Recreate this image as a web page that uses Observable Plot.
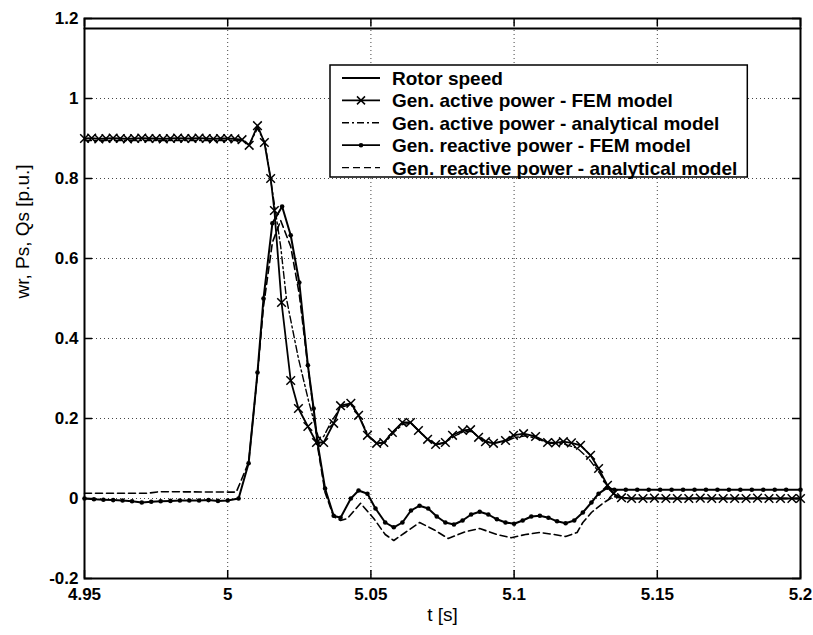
<!DOCTYPE html>
<html><head><meta charset="utf-8">
<script src="https://cdn.jsdelivr.net/npm/d3@7"></script>
<script src="https://cdn.jsdelivr.net/npm/@observablehq/plot@0.6"></script>
<style>body{margin:0;background:#fff}</style>
</head><body><div id="chart"></div>
<script>
// ---- tick labels ----
const xTicks = [4.95, 5, 5.05, 5.1, 5.15, 5.2];
const xTickLabels = ["4.95", "5", "5.05", "5.1", "5.15", "5.2"];
const yTicks = [-0.2, 0, 0.2, 0.4, 0.6, 0.8, 1, 1.2];
const yTickLabels = ["-0.2", "0", "0.2", "0.4", "0.6", "0.8", "1", "1.2"];
const xLabel = "t [s]";
const yLabel = "wr, Ps, Qs [p.u.]";
const seriesNames = [
  "Rotor speed",
  "Gen. active power - FEM model",
  "Gen. active power - analytical model",
  "Gen. reactive power - FEM model",
  "Gen. reactive power - analytical model"
];

// ---- series values ----
const rotorT = [4.95, 5.2];
const rotorV = [1.175, 1.175];

const activeFemT = [4.95,4.9525,4.955,4.9575,4.96,4.9625,4.965,4.9675,4.97,4.9725,4.975,4.9775,4.98,4.9825,4.985,4.9875,4.99,4.9925,4.995,4.9975,5.0,5.0025,5.005,
  5.0075,5.0104,5.0128,5.015,5.0163,5.0188,5.022,5.0247,5.028,5.031,5.0335,5.037,5.0394,5.043,5.0457,5.0488,5.052,5.0545,5.0575,5.061,5.0638,5.0666,5.0698,5.0726,5.076,5.0785,5.082,5.0848,5.0876,5.090,5.0928,5.097,5.0998,5.1033,5.1075,5.1117,5.1145,5.1172,5.120,5.1232,5.1267,5.1295,5.1326,5.1347,5.1375,
  5.141,5.145,5.149,5.153,5.157,5.161,5.165,5.169,5.173,5.177,5.181,5.185,5.189,5.193,5.197,5.2];
const activeFemV = [0.900,0.901,0.899,0.900,0.901,0.900,0.899,0.900,0.901,0.900,0.900,0.899,0.900,0.901,0.900,0.900,0.901,0.900,0.899,0.900,0.900,0.899,0.897,
  0.883,0.932,0.890,0.800,0.720,0.490,0.295,0.225,0.180,0.140,0.140,0.188,0.232,0.238,0.208,0.158,0.138,0.140,0.165,0.190,0.190,0.170,0.148,0.135,0.140,0.158,0.170,0.172,0.153,0.142,0.138,0.145,0.158,0.162,0.155,0.140,0.139,0.142,0.139,0.133,0.108,0.075,0.033,0.012,0.002,
  0.000,0.000,0.001,0.000,0.000,0.000,0.001,0.000,0.000,0.000,0.000,0.001,0.000,0.000,0.000,0.000];

const activeAnaT = [4.95,5.0,5.005,5.0075,5.0104,5.013,5.016,5.0185,5.0205,5.0247,5.0282,5.0307,5.0317,5.0335,5.036,5.0394,5.043,5.046,5.049,5.052,5.055,5.058,5.061,5.064,5.067,5.070,5.073,5.076,5.079,5.082,5.085,5.088,5.092,5.097,5.100,5.104,5.108,5.112,5.117,5.122,5.126,5.130,5.133,5.136,5.140,5.2];
const activeAnaV = [0.895,0.895,0.895,0.885,0.925,0.890,0.750,0.630,0.500,0.350,0.245,0.178,0.152,0.155,0.190,0.228,0.235,0.205,0.158,0.138,0.140,0.165,0.185,0.188,0.168,0.147,0.135,0.140,0.155,0.166,0.168,0.152,0.138,0.142,0.152,0.157,0.150,0.138,0.137,0.126,0.100,0.062,0.025,0.005,0.000,0.000];

const reactFemT = [4.95,4.9533,4.9566,4.96,4.9633,4.9666,4.97,4.9733,4.9766,4.98,4.9833,4.9866,4.99,4.9933,4.9966,5.0,5.0038,5.0073,5.0104,5.0125,5.0156,5.019,5.022,5.025,5.028,5.030,5.0314,5.034,5.037,5.0394,5.043,5.0457,5.0488,5.0516,5.055,5.058,5.061,5.064,5.067,5.070,5.073,5.076,5.079,5.082,5.085,5.088,5.091,5.094,5.097,5.100,5.103,5.106,5.109,5.112,5.115,5.118,5.121,5.124,5.127,5.1295,5.1326,5.135,
  5.139,5.143,5.147,5.151,5.155,5.159,5.163,5.167,5.171,5.175,5.179,5.183,5.187,5.191,5.195,5.2];
const reactFemV = [0.000,-0.002,-0.003,-0.004,-0.005,-0.007,-0.010,-0.008,-0.007,-0.006,-0.005,-0.005,-0.005,-0.004,-0.006,-0.005,0.000,0.088,0.315,0.500,0.688,0.730,0.658,0.540,0.333,0.225,0.138,0.025,-0.043,-0.048,0.000,0.020,0.012,-0.025,-0.060,-0.072,-0.060,-0.030,-0.018,-0.025,-0.045,-0.060,-0.065,-0.055,-0.040,-0.033,-0.040,-0.052,-0.060,-0.063,-0.055,-0.045,-0.043,-0.048,-0.057,-0.062,-0.055,-0.035,-0.010,0.012,0.027,0.022,
  0.022,0.022,0.022,0.022,0.022,0.022,0.022,0.022,0.022,0.022,0.022,0.022,0.022,0.022,0.022,0.022];

const reactAnaT = [4.95,4.972,4.976,5.0,5.003,5.0073,5.0104,5.0125,5.0156,5.0185,5.022,5.025,5.028,5.030,5.0314,5.034,5.037,5.0394,5.0418,5.0464,5.051,5.055,5.058,5.062,5.067,5.072,5.077,5.083,5.088,5.094,5.099,5.104,5.109,5.114,5.118,5.122,5.124,5.127,5.131,5.1347,5.138,5.2];
const reactAnaV = [0.013,0.013,0.017,0.016,0.016,0.090,0.310,0.480,0.640,0.695,0.630,0.510,0.330,0.220,0.130,0.015,-0.045,-0.055,-0.050,-0.012,-0.050,-0.090,-0.105,-0.085,-0.060,-0.078,-0.100,-0.083,-0.075,-0.090,-0.098,-0.090,-0.085,-0.090,-0.095,-0.085,-0.060,-0.035,-0.012,0.005,0.000,0.000];

// ---- build table ----
const pairs = [[rotorT, rotorV],[activeFemT, activeFemV],[activeAnaT, activeAnaV],[reactFemT, reactFemV],[reactAnaT, reactAnaV]];
const rows = [];
pairs.forEach(([T, V], k) => T.forEach((t, i) => rows.push({series: seriesNames[k], t, v: V[i]})));
const of = k => rows.filter(r => r.series === seriesNames[k]);

const W = 813, H = 635, mL = 84, mR = 13, mT = 18, mB = 57;
const innerW = W - mL - mR, innerH = H - mT - mB;
const font = "'Liberation Sans', Arial, Helvetica, sans-serif";

const chart = Plot.plot({
  width: W, height: H,
  marginLeft: mL, marginRight: mR, marginTop: mT, marginBottom: mB,
  style: {fontFamily: font, fontSize: "17px", background: "#fff", color: "#000"},
  x: {domain: [4.95, 5.2]},
  y: {domain: [-0.2, 1.2]},
  marks: [
    Plot.ruleX(xTicks, {stroke: "#444", strokeWidth: 1, strokeDasharray: "1,3"}),
    Plot.ruleY(yTicks, {stroke: "#444", strokeWidth: 1, strokeDasharray: "1,3"}),
    Plot.ruleX(xTicks, {stroke: "#000", strokeWidth: 1.5, insetTop: innerH - 8}),
    Plot.ruleX(xTicks, {stroke: "#000", strokeWidth: 1.5, insetBottom: innerH - 8}),
    Plot.ruleY(yTicks, {stroke: "#000", strokeWidth: 1.5, insetRight: innerW - 8}),
    Plot.ruleY(yTicks, {stroke: "#000", strokeWidth: 1.5, insetLeft: innerW - 8}),
    Plot.axisX(xTicks, {tickSize: 0, tickPadding: 9, tickFormat: d => xTickLabels[xTicks.indexOf(d)], label: null, fontWeight: "bold"}),
    Plot.axisY(yTicks, {tickSize: 0, tickPadding: 6, tickFormat: d => yTickLabels[yTicks.indexOf(d)], label: null, fontWeight: "bold"}),
    Plot.text([xLabel], {frameAnchor: "bottom", dy: 42, fontSize: 19}),
    Plot.text([yLabel], {frameAnchor: "left", dx: -62, rotate: -90, fontSize: 19}),
    Plot.line(of(0), {x: "t", y: "v", stroke: "#000", strokeWidth: 2}),
    Plot.line(of(4), {x: "t", y: "v", stroke: "#000", strokeWidth: 1.6, strokeDasharray: "7,4"}),
    Plot.line(of(2), {x: "t", y: "v", stroke: "#000", strokeWidth: 1.4, strokeDasharray: "7,3,2,3"}),
    Plot.line(of(1), {x: "t", y: "v", stroke: "#000", strokeWidth: 1.8}),
    Plot.dot(of(1), {x: "t", y: "v", symbol: "times", r: 4, stroke: "#000", strokeWidth: 1.5}),
    Plot.line(of(3), {x: "t", y: "v", stroke: "#000", strokeWidth: 2}),
    Plot.dot(of(3), {x: "t", y: "v", r: 2.3, fill: "#000", stroke: "none"}),
    Plot.frame({stroke: "#000", strokeWidth: 2})
  ]
});
document.getElementById("chart").append(chart);

// ---- legend ----
const svg = d3.select(chart);
const lg = svg.append("g").attr("font-family", font).attr("font-size", 19).attr("font-weight", "bold").attr("text-anchor", "start");
const bx = 330, by = 65, rowH = 22.4, y0 = by + 13;
const box = lg.append("rect").attr("x", bx).attr("y", by).attr("height", 112).attr("fill", "#fff").attr("stroke", "#000").attr("stroke-width", 1.5);
const dashes = [null, null, "7,3,2,3", null, "7,4"];
let maxW = 0;
seriesNames.forEach((name, i) => {
  const yy = y0 + i * rowH;
  const ln = lg.append("line").attr("x1", 342).attr("x2", 380).attr("y1", yy).attr("y2", yy).attr("stroke", "#000").attr("stroke-width", i === 2 || i === 4 ? 1.4 : 1.8);
  if (dashes[i]) ln.attr("stroke-dasharray", dashes[i]);
  if (i === 1) lg.append("path").attr("d", `M${361-4},${yy-4}L${361+4},${yy+4}M${361-4},${yy+4}L${361+4},${yy-4}`).attr("stroke", "#000").attr("stroke-width", 1.5);
  if (i === 3) lg.append("circle").attr("cx", 361).attr("cy", yy).attr("r", 2.3).attr("fill", "#000");
  const tx = lg.append("text").attr("x", 392).attr("y", yy + 7).attr("text-anchor", "start").text(name);
  maxW = Math.max(maxW, tx.node().getComputedTextLength());
});
box.attr("width", 392 + maxW + 10 - bx);
</script>
</body></html>
